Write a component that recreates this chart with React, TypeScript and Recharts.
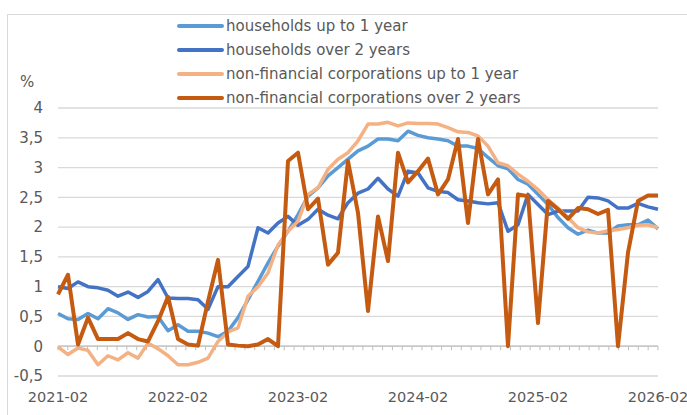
import { LineChart, Line, XAxis, YAxis, CartesianGrid, ReferenceLine, Legend } from 'recharts';

// monthly, 2021-02 .. 2026-02
const months: string[] = [];
for (let y = 2021; y <= 2026; y++) {
  for (let m = 1; m <= 12; m++) {
    if ((y === 2021 && m < 2) || (y === 2026 && m > 2)) continue;
    months.push(`${y}-${String(m).padStart(2, '0')}`);
  }
}

const householdsShort = [
  0.55, 0.46, 0.45, 0.55, 0.46, 0.63, 0.56, 0.45, 0.53, 0.49, 0.5, 0.26,
  0.36, 0.25, 0.25, 0.22, 0.16, 0.25, 0.48, 0.78, 1.09, 1.4, 1.68, 1.93,
  2.21, 2.52, 2.66, 2.86, 3.0, 3.14, 3.28, 3.36, 3.48, 3.48, 3.45, 3.61,
  3.54, 3.5, 3.48, 3.45, 3.36, 3.36, 3.32, 3.17, 3.03, 2.98, 2.8, 2.72,
  2.55, 2.38, 2.16, 1.99, 1.88, 1.95, 1.9, 1.9, 2.02, 2.04, 2.04, 2.12,
  1.97,
];
const householdsLong = [
  1.0, 0.97, 1.08, 1.0, 0.98, 0.94, 0.84, 0.91, 0.82, 0.92, 1.12, 0.81,
  0.8, 0.8, 0.78, 0.62, 1.0, 1.0, 1.17, 1.34, 1.99, 1.9, 2.07, 2.18,
  2.03, 2.13, 2.3, 2.2, 2.14, 2.41, 2.57, 2.64, 2.82, 2.64, 2.52, 2.94,
  2.91, 2.66, 2.6, 2.58, 2.46, 2.44, 2.41, 2.39, 2.41, 1.93, 2.04, 2.55,
  2.38, 2.21, 2.27, 2.27, 2.27, 2.5, 2.49, 2.44, 2.32, 2.32, 2.4, 2.34,
  2.3,
];
const corporationsShort = [
  -0.01, -0.14, -0.03, -0.07, -0.31, -0.16, -0.23, -0.11, -0.2, 0.05, -0.04, -0.16,
  -0.31, -0.31, -0.27, -0.2, 0.08, 0.24, 0.31, 0.84, 1.0, 1.23, 1.7, 1.93,
  2.1, 2.55, 2.66, 2.97, 3.14, 3.25, 3.45, 3.73, 3.73, 3.76, 3.7, 3.75,
  3.74, 3.74, 3.73, 3.67, 3.6, 3.59, 3.53, 3.36, 3.08, 3.03, 2.89, 2.77,
  2.63, 2.46, 2.32, 2.16, 1.99, 1.92, 1.9, 1.94, 1.96, 1.99, 2.03, 2.04,
  1.99,
];
const corporationsLong = [
  0.87, 1.2, 0.03, 0.48, 0.12, 0.12, 0.12, 0.22, 0.12, 0.08, 0.42, 0.83,
  0.12, 0.03, 0.01, 0.75, 1.45, 0.03, 0.01, 0.0, 0.03, 0.12, 0.0, 3.11,
  3.25, 2.3, 2.48, 1.37, 1.57, 3.11, 2.24, 0.59, 2.18, 1.43, 3.25, 2.75,
  2.94, 3.15, 2.55, 2.8, 3.48, 2.07, 3.48, 2.55, 2.8, 0.0, 2.55, 2.52,
  0.39, 2.44, 2.3, 2.14, 2.32, 2.3, 2.22, 2.29, 0.0, 1.57, 2.44, 2.53,
  2.53,
];

const yTicks = [-0.5, 0, 0.5, 1, 1.5, 2, 2.5, 3, 3.5, 4];

const series = [
  { key: 'hhShort', name: 'households up to 1 year', color: '#5B9BD5', width: 3.5 },
  { key: 'hhLong', name: 'households over 2 years', color: '#4472C4', width: 3.5 },
  { key: 'nfcShort', name: 'non-financial corporations up to 1 year', color: '#F4B183', width: 3.5 },
  { key: 'nfcLong', name: 'non-financial corporations over 2 years', color: '#C55A11', width: 4 },
];

const data = months.map((month, i) => ({
  month,
  hhShort: householdsShort[i],
  hhLong: householdsLong[i],
  nfcShort: corporationsShort[i],
  nfcLong: corporationsLong[i],
}));

const FONT = '"DejaVu Sans", sans-serif';
const TEXT = '#595959';
const GRID = '#d9d9d9';

// zero axis line with a small tick at every month boundary
function ZeroAxis(props: any) {
  const { x1, x2, y1 } = props;
  const n = months.length;
  const step = (x2 - x1) / n;
  const marks = [];
  for (let i = 0; i <= n; i++) {
    const x = x1 + i * step;
    marks.push(<line key={i} x1={x} x2={x} y1={y1} y2={y1 + 4} stroke="#bfbfbf" strokeWidth={1} />);
  }
  return (
    <g>
      <line x1={x1} x2={x2} y1={y1} y2={y1} stroke="#bfbfbf" strokeWidth={1.3} />
      {marks}
    </g>
  );
}

function LegendRows() {
  return (
    <div style={{ fontFamily: FONT, fontSize: 15, color: TEXT }}>
      {series.map((s) => (
        <div key={s.key} style={{ display: 'flex', alignItems: 'center', height: 24 }}>
          <svg width={50} height={24}>
            <line x1={3} x2={46} y1={12} y2={12} stroke={s.color} strokeWidth={4} strokeLinecap="round" />
          </svg>
          <span style={{ whiteSpace: 'nowrap' }}>{s.name}</span>
        </div>
      ))}
    </div>
  );
}

export default function App() {
  return (
    <div style={{ position: 'absolute', left: 0, top: 0, width: 687, height: 415, overflow: 'hidden', background: '#fff' }}>
      <div style={{ position: 'absolute', left: 7, top: 14, width: 720, height: 440, border: `1px solid ${GRID}` }} />
      <div style={{ position: 'absolute', left: 20, top: 73, fontFamily: FONT, fontSize: 15, color: TEXT }}>%</div>
      <LineChart
        width={687}
        height={415}
        data={data}
        margin={{ top: 108, right: 29, bottom: 9, left: 0 }}
        style={{ position: 'absolute', left: 0, top: 0 }}
      >
        <CartesianGrid horizontal vertical={false} stroke={GRID} strokeWidth={1.3} />
        <XAxis
          dataKey="month"
          height={30}
          interval={11}
          axisLine={false}
          tickLine={false}
          tickSize={0}
          tickMargin={16}
          tick={{ fill: TEXT, fontSize: 14.5, fontFamily: FONT }}
        />
        <YAxis
          type="number"
          domain={[-0.5, 4]}
          ticks={yTicks}
          width={58}
          axisLine={false}
          tickLine={false}
          tickSize={0}
          tickMargin={15}
          tick={{ fill: TEXT, fontSize: 15, fontFamily: FONT }}
          tickFormatter={(v: number) => String(v).replace('.', ',')}
        />
        <ReferenceLine y={0} shape={ZeroAxis} />
        <Legend
          layout="horizontal"
          verticalAlign="middle"
          align="center"
          wrapperStyle={{ top: 14, left: 176, width: 420 }}
          content={() => <LegendRows />}
        />
        {series.map((s) => (
          <Line
            key={s.key}
            type="linear"
            dataKey={s.key}
            name={s.name}
            stroke={s.color}
            strokeWidth={s.width}
            strokeLinejoin="round"
            dot={false}
            activeDot={false}
            isAnimationActive={false}
          />
        ))}
      </LineChart>
    </div>
  );
}
